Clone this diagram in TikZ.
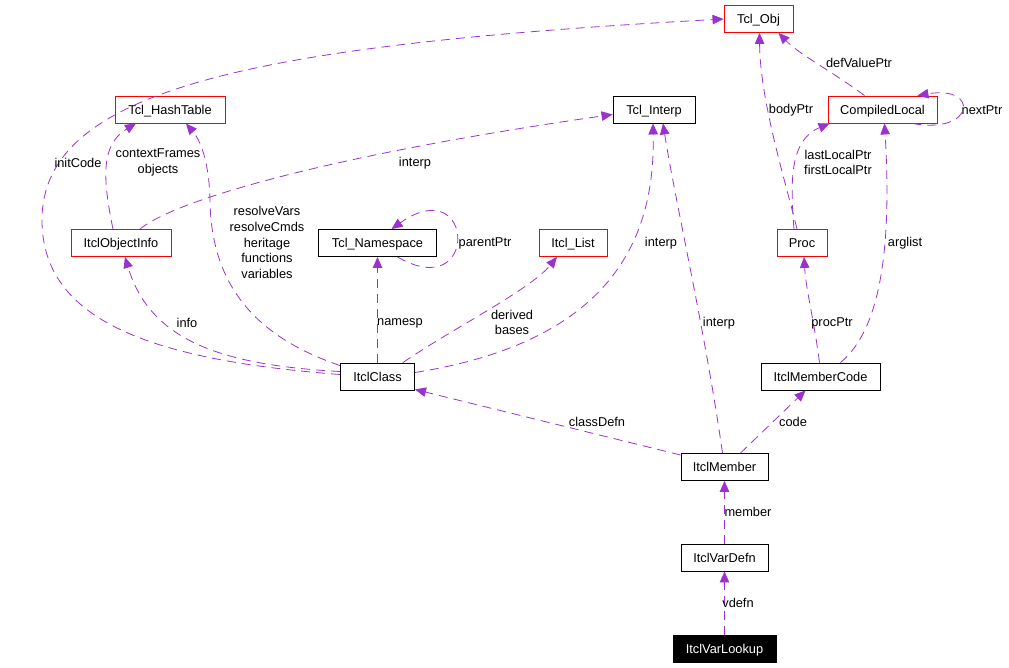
\documentclass[tikz,border=0pt]{standalone}
\usepackage{fontspec}
\setmainfont{Liberation Sans}
\usetikzlibrary{arrows.meta,calc}
\definecolor{edgec}{HTML}{9A32CD}
\begin{document}
\begin{tikzpicture}[x=1pt,y=-1pt,
  box/.style={draw, line width=0.9pt, inner sep=0pt, minimum height=27pt,
    text height=10pt, text depth=1pt,
    font=\fontsize{12.8}{15}\selectfont, anchor=center},
  redbox/.style={box, draw=red},
  blackbox/.style={box, draw=black},
  edge/.style={draw=edgec, line width=0.8pt, dash pattern=on 9pt off 6pt,
    -{Triangle[length=11pt,width=9.5pt,fill=edgec]}},
  lbl/.style={font=\fontsize{12.8}{15.6}\selectfont, inner sep=0pt, align=center}]
\useasboundingbox (0,0) rectangle (1009,667);

% nodes
\node[redbox, minimum width=69pt] (obj) at (758.5,19) {Tcl\_Obj};
\node[redbox, minimum width=110pt] (hash) at (170,109.5) {Tcl\_HashTable};
\node[blackbox, minimum width=82pt] (interp) at (654,109.5) {Tcl\_Interp};
\node[redbox, minimum width=109pt] (cl) at (882.5,109.5) {CompiledLocal};
\node[redbox, minimum width=100pt] (oi) at (121,243) {ItclObjectInfo};
\node[blackbox, minimum width=118pt] (ns) at (377.5,243) {Tcl\_Namespace};
\node[redbox, minimum width=68pt] (list) at (573,243) {Itcl\_List};
\node[redbox, minimum width=50pt] (proc) at (802,243) {Proc};
\node[blackbox, minimum width=74pt] (class) at (377.5,376.5) {ItclClass};
\node[blackbox, minimum width=119pt] (mc) at (820.5,376.5) {ItclMemberCode};
\node[blackbox, minimum width=87pt] (mem) at (724.5,467) {ItclMember};
\node[blackbox, minimum width=87pt] (vd) at (724.5,557.5) {ItclVarDefn};
\node[box, fill=black, text=white, minimum width=103pt] (vl) at (724.5,649) {ItclVarLookup};

% edges
\draw[edge] ($(class.west)+(0,-2)$) .. controls (150,360) and (42,320) .. (42,220)
  .. controls (42,90) and (250,45) .. (obj.west);
\draw[edge] ($(class.north west)+(0,3)$) .. controls (250,335) and (211,280) .. (210,200)
  .. controls (209,160) and (200,140) .. ($(hash.south)+(16,0)$);
\draw[edge] ($(oi.north)+(-8,0)$) .. controls (103,180) and (100,145) .. ($(hash.south)+(-34,0)$);
\draw[edge] ($(oi.north)+(19,0)$) .. controls (175,200) and (330,155) .. ($(interp.west)+(0,5)$);
\draw[edge] ($(class.west)+(0,-5)$) .. controls (220,365) and (150,340) .. ($(oi.south)+(4,0)$);
\draw[edge] ($(ns.south)+(20,0)$) .. controls (480,305) and (475,170) .. ($(ns.north)+(14,0)$);
\draw[edge] (class.north) -- (ns.south);
\draw[edge] ($(class.north east)+(-12,0)$) .. controls (450,330) and (530,290) .. ($(list.south)+(-16,0)$);
\draw[edge] ($(class.east)+(0,-4)$) .. controls (620,340) and (655,230) .. ($(interp.south)+(-1,0)$);
\draw[edge] ($(mem.north)+(-2,0)$) .. controls (705,330) and (675,200) .. ($(interp.south)+(9,0)$);
\draw[edge] ($(mem.west)+(0,-12)$) -- ($(class.south east)+(0,-1)$);
\draw[edge] ($(mem.north)+(16,0)$) -- ($(mc.south)+(-15,0)$);
\draw[edge] (vd.north) -- (mem.south);
\draw[edge] (vl.north) -- (vd.south);
\draw[edge] ($(mc.north)+(-1,0)$) .. controls (814,320) and (806,290) .. ($(proc.south)+(2,0)$);
\draw[edge] ($(mc.north)+(20,0)$) .. controls (880,330) and (892,250) .. ($(cl.south)+(2,0)$);
\draw[edge] ($(proc.north)+(-5,0)$) .. controls (785,180) and (760,100) .. ($(obj.south)+(1,0)$);
\draw[edge] ($(proc.north)+(-8,0)$) .. controls (790,180) and (790,140) .. ($(cl.south west)+(2,0)$);
\draw[edge] ($(cl.north)+(-18,0)$) .. controls (830,70) and (800,55) .. ($(obj.south east)+(-15,0)$);
\draw[edge] ($(cl.south east)+(-25,0)$) .. controls (975,135) and (980,85) .. ($(cl.north east)+(-20,0)$);

% labels
\node[lbl] (l1) at (78,163) {initCode};
\node[lbl] (l2) at (267,242.5) {resolveVars\\resolveCmds\\heritage\\functions\\variables};
\node[lbl] (l3) at (158,162.5) {contextFrames\\objects};
\node[lbl] (l4) at (415,163) {interp};
\node[lbl] (l5) at (187,323) {info};
\node[lbl] (l6) at (485,243) {parentPtr};
\node[lbl] (l7) at (400,323) {namesp};
\node[lbl] (l8) at (512,322.5) {derived\\bases};
\node[lbl] (l9) at (661,243) {interp};
\node[lbl] (l10) at (719,323) {interp};
\node[lbl] (l11) at (597,422) {classDefn};
\node[lbl] (l12) at (793,422) {code};
\node[lbl] (l13) at (748,512) {member};
\node[lbl] (l14) at (738,603) {vdefn};
\node[lbl] (l15) at (832,323) {procPtr};
\node[lbl] (l16) at (905,243) {arglist};
\node[lbl] (l17) at (791,110) {bodyPtr};
\node[lbl] (l18) at (838,162.5) {lastLocalPtr\\firstLocalPtr};
\node[lbl] (l19) at (859,63) {defValuePtr};
\node[lbl] (l20) at (982,110) {nextPtr};
\end{tikzpicture}
\end{document}
